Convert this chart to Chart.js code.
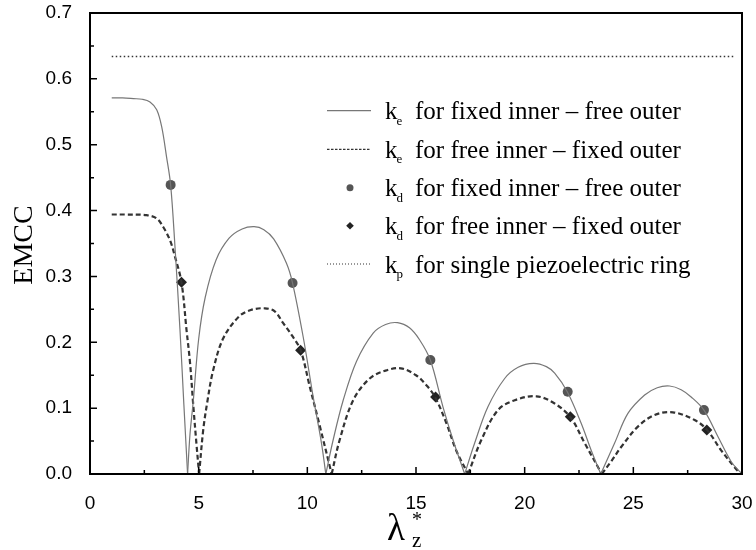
<!DOCTYPE html>
<html><head><meta charset="utf-8">
<script src="https://cdn.jsdelivr.net/npm/chart.js@4.4.0/dist/chart.umd.min.js"></script>
<style>html,body{margin:0;padding:0;background:#fff}</style>
</head><body>
<canvas id="c" width="756" height="550"></canvas>
<script>
// ---- data ----
const xTickValues = [0, 5, 10, 15, 20, 25, 30];
const yTickValues = [0.0, 0.1, 0.2, 0.3, 0.4, 0.5, 0.6, 0.7];

// k_e for fixed inner – free outer (solid)
const keFixedFreeX = [1.0,1.5,2.0,2.4,2.76,3.07,3.30,3.52,3.71,3.91,4.14,4.32,4.49,
  4.6,4.75,5.0,5.3,5.8,6.4,7.0,7.55,8.0,8.45,9.04,9.32,9.81,10.27,10.65,10.85,
  11.19,11.65,12.26,13.03,13.6,14.15,14.7,15.17,15.66,16.24,16.70,17.24,
  17.70,18.31,19.08,19.7,20.41,21.0,21.38,21.96,22.60,23.06,23.5,
  24.14,24.75,25.52,26.1,26.67,27.2,27.66,28.25,28.89,29.50,30];
const keFixedFreeY = [0.571,0.571,0.570,0.569,0.565,0.553,0.527,0.482,0.439,0.345,0.219,0.105,0,
  0.06,0.11,0.205,0.268,0.325,0.358,0.372,0.3755,0.371,0.357,0.320,0.290,0.208,0.117,0.047,0,
  0.052,0.112,0.171,0.214,0.227,0.2298,0.222,0.2035,0.173,0.102,0.052,0,
  0.047,0.102,0.145,0.162,0.168,0.163,0.153,0.125,0.077,0.036,0,
  0.047,0.092,0.120,0.131,0.1336,0.128,0.117,0.097,0.057,0.019,0];

// k_e for free inner – fixed outer (dashed)
const keFreeFixedX = [1.0,1.6,2.6,3.07,3.37,3.68,3.91,4.21,4.44,4.6,4.75,4.9,5.02,
  5.21,5.4,5.67,6.13,6.85,7.4,8.05,8.5,8.89,9.3,9.69,10.11,10.58,11.12,
  11.49,12.11,12.87,13.6,14.3,15.0,15.5,15.89,16.40,16.86,17.4,
  18.01,18.77,19.54,20.54,21.38,22.11,22.76,23.55,
  24.0,24.44,25.21,25.98,26.82,27.82,28.39,29.04,29.80,30];
const keFreeFixedY = [0.394,0.394,0.393,0.388,0.375,0.355,0.330,0.291,0.219,0.17,0.105,0.045,0,
  0.067,0.11,0.158,0.206,0.239,0.249,0.2516,0.247,0.229,0.210,0.188,0.133,0.072,0,
  0.052,0.112,0.145,0.157,0.1605,0.150,0.134,0.116,0.077,0.035,0,
  0.052,0.097,0.112,0.118,0.107,0.086,0.047,0,
  0.02,0.041,0.072,0.0896,0.0937,0.082,0.067,0.036,0.005,0];

// k_d points
const kdFixedFreeX = [3.71, 9.32, 15.66, 21.98, 28.25];
const kdFixedFreeY = [0.439, 0.290, 0.173, 0.125, 0.097];
const kdFreeFixedX = [4.21, 9.69, 15.90, 22.10, 28.38];
const kdFreeFixedY = [0.291, 0.188, 0.117, 0.087, 0.067];

// k_p single piezoelectric ring
const kpX = [1.0, 29.7];
const kpY = [0.634, 0.634];

const legendSubs = ['e', 'e', 'd', 'd', 'p'];
const legendTexts = [
  'for fixed inner \u2013 free outer',
  'for free inner \u2013 fixed outer',
  'for fixed inner \u2013 free outer',
  'for free inner \u2013 fixed outer',
  'for single piezoelectric ring'
];

// ---- helpers ----
function toPts(xs, ys) { return xs.map((x, i) => ({x: x, y: ys[i]})); }
function splitArches(xs, ys) {
  const out = []; let cur = [];
  for (let i = 0; i < xs.length; i++) {
    cur.push({x: xs[i], y: ys[i]});
    if (ys[i] === 0 && i > 0 && i < xs.length - 1) { out.push(cur); cur = [{x: xs[i], y: ys[i]}]; }
  }
  if (cur.length > 1) out.push(cur);
  return out;
}

const SOLID = '#777777', DASH = '#333333';
const datasets = [];
splitArches(keFixedFreeX, keFixedFreeY).forEach(a => datasets.push({
  type: 'line', data: a, borderColor: SOLID, borderWidth: 1.2, pointRadius: 0,
  tension: 0.35, fill: false
}));
splitArches(keFreeFixedX, keFreeFixedY).forEach(a => datasets.push({
  type: 'line', data: a, borderColor: DASH, borderWidth: 2.2, borderDash: [5, 3], pointRadius: 0,
  tension: 0.35, fill: false
}));
datasets.push({type: 'line', data: toPts(kpX, kpY), borderColor: DASH, borderWidth: 1.5,
  borderDash: [1.5, 2.5], pointRadius: 0, fill: false});
datasets.push({type: 'scatter', data: toPts(kdFixedFreeX, kdFixedFreeY), pointStyle: 'circle',
  pointRadius: 5, backgroundColor: '#555555', borderColor: '#555555', borderWidth: 0, showLine: false});
datasets.push({type: 'scatter', data: toPts(kdFreeFixedX, kdFreeFixedY), pointStyle: 'rectRot',
  pointRadius: 5.5, backgroundColor: '#222222', borderColor: '#222222', borderWidth: 0, showLine: false});

const decor = {
  id: 'decor',
  afterDatasetsDraw(chart) {
    const ctx = chart.ctx, a = chart.chartArea;
    const xs = chart.scales.x, ys = chart.scales.y;
    ctx.save();
    ctx.strokeStyle = '#000'; ctx.lineWidth = 1.5;
    ctx.beginPath();
    for (let i = 0; i < yTickValues.length; i++) {
      const py = ys.getPixelForValue(yTickValues[i]);
      ctx.moveTo(a.left, py); ctx.lineTo(a.left + 7, py);
      if (i < yTickValues.length - 1) {
        const pm = ys.getPixelForValue((yTickValues[i] + yTickValues[i + 1]) / 2);
        ctx.moveTo(a.left, pm); ctx.lineTo(a.left + 4, pm);
      }
    }
    for (let i = 0; i < xTickValues.length; i++) {
      const px = xs.getPixelForValue(xTickValues[i]);
      ctx.moveTo(px, a.bottom); ctx.lineTo(px, a.bottom - 7);
      if (i < xTickValues.length - 1) {
        const pm = xs.getPixelForValue((xTickValues[i] + xTickValues[i + 1]) / 2);
        ctx.moveTo(pm, a.bottom); ctx.lineTo(pm, a.bottom - 4);
      }
    }
    ctx.stroke();
    ctx.lineWidth = 2;
    ctx.strokeRect(a.left, a.top, a.right - a.left, a.bottom - a.top);

    // legend
    const rowY = [110.7, 149.3, 187.7, 225.7, 264.0];
    for (let i = 0; i < 5; i++) {
      const y = rowY[i];
      ctx.save();
      if (i === 0) { ctx.strokeStyle = SOLID; ctx.lineWidth = 1.2; ctx.beginPath(); ctx.moveTo(327, y); ctx.lineTo(371, y); ctx.stroke(); }
      if (i === 1) { ctx.strokeStyle = DASH; ctx.lineWidth = 1.3; ctx.setLineDash([2.5, 1.5]); ctx.beginPath(); ctx.moveTo(327, y); ctx.lineTo(370, y); ctx.stroke(); }
      if (i === 2) { ctx.fillStyle = '#555'; ctx.beginPath(); ctx.arc(350, y, 3.5, 0, Math.PI * 2); ctx.fill(); }
      if (i === 3) { ctx.fillStyle = '#222'; ctx.beginPath(); ctx.moveTo(350, y - 3.8); ctx.lineTo(353.8, y); ctx.lineTo(350, y + 3.8); ctx.lineTo(346.2, y); ctx.closePath(); ctx.fill(); }
      if (i === 4) { ctx.strokeStyle = DASH; ctx.lineWidth = 1.2; ctx.setLineDash([1, 2]); ctx.beginPath(); ctx.moveTo(327, y); ctx.lineTo(370, y); ctx.stroke(); }
      ctx.restore();
      ctx.fillStyle = '#000'; ctx.textAlign = 'left'; ctx.textBaseline = 'alphabetic';
      ctx.font = '25px "Liberation Serif"';
      ctx.fillText('k', 385, y + 8.6);
      const wk = ctx.measureText('k').width;
      ctx.font = '13px "Liberation Serif"';
      ctx.fillText(legendSubs[i], 385 + wk - 1, y + 14);
      ctx.font = '25px "Liberation Serif"';
      ctx.fillText(legendTexts[i], 415, y + 8.6);
    }

    // y title
    ctx.save();
    ctx.translate(31.7, 245); ctx.rotate(-Math.PI / 2);
    ctx.font = '28px "Liberation Serif"'; ctx.textAlign = 'center'; ctx.textBaseline = 'alphabetic';
    ctx.fillText('EMCC', 0, 0);
    ctx.restore();

    // x title  λ*_z
    ctx.textAlign = 'left';
    ctx.font = '37px "Liberation Serif"';
    ctx.fillText('\u03bb', 387, 540);
    ctx.font = '20px "Liberation Serif"';
    ctx.fillText('*', 412, 526);
    ctx.font = '21px "Liberation Serif"';
    ctx.fillText('z', 412, 547);
    ctx.restore();
  }
};

new Chart(document.getElementById('c'), {
  data: {datasets: datasets},
  options: {
    responsive: false, animation: false,
    layout: {padding: {left: 0, right: 14, top: 13, bottom: 0}},
    plugins: {legend: {display: false}, tooltip: {enabled: false}},
    scales: {
      x: {type: 'linear', min: 0, max: 30,
        afterFit(s) { s.height = 76; s.paddingLeft = 0; s.paddingRight = 0; },
        afterBuildTicks(s) { s.ticks = xTickValues.map(v => ({value: v})); },
        grid: {display: false}, border: {display: false},
        ticks: {font: {family: 'Liberation Sans', size: 19}, color: '#000', padding: 10, maxRotation: 0, autoSkip: false}},
      y: {type: 'linear', min: 0, max: 0.7,
        afterFit(s) { s.width = 90; s.paddingTop = 0; s.paddingBottom = 0; },
        afterBuildTicks(s) { s.ticks = yTickValues.map(v => ({value: v})); },
        grid: {display: false}, border: {display: false},
        ticks: {font: {family: 'Liberation Sans', size: 19}, color: '#000', padding: 10,
          callback: v => Number(v).toFixed(1)}}
    }
  },
  plugins: [decor]
});
</script>
</body></html>
